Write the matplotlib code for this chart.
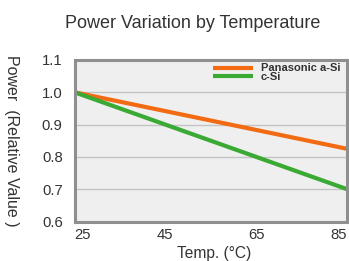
import matplotlib
matplotlib.use("Agg")
import matplotlib.pyplot as plt

plt.rcParams['font.family'] = ['Liberation Sans', 'DejaVu Sans']

temps = [25, 85]
a_si = [1.0, 0.825]
c_si = [1.0, 0.70]
xticks = [25, 45, 65, 85]
yticks = [0.6, 0.7, 0.8, 0.9, 1.0, 1.1]

fig = plt.figure(figsize=(3.49, 2.61), dpi=100)
ax = fig.add_axes([0.2135, 0.1513, 0.781, 0.619])
ax.set_facecolor('#efefef')

ax.plot(temps, a_si, color='#f26b12', lw=3, label='Panasonic a-Si', solid_capstyle='butt')
ax.plot(temps, c_si, color='#3aaa35', lw=3, label='c-Si', solid_capstyle='butt')

ax.set_xlim(25, 85)
ax.set_ylim(0.6, 1.1)
ax.set_xticks(xticks)
ax.set_yticks(yticks)
ax.set_yticklabels(['%.1f' % v for v in yticks])
ax.grid(axis='y', color='#c4c4c4', lw=1)
ax.set_axisbelow(True)
ax.tick_params(length=0, labelsize=10.7, colors='#333333')
ax.tick_params(axis='y', pad=8.5)
ax.tick_params(axis='x', pad=4.5)
xl = ax.get_xticklabels()
xl[0].set_ha('left')
xl[-1].set_ha('right')
for s in ax.spines.values():
    s.set_color('#8f8f8f')
    s.set_linewidth(2.2)

ax.set_xlabel('Temp. (°C)', fontsize=11.2, color='#333333')
ax.xaxis.set_label_coords(0.512, -0.15)
ax.set_ylabel('Power  (Relative Value )', fontsize=11.5, rotation=270, color='#333333')
ax.yaxis.label.set_va('center')
ax.yaxis.set_label_coords(-0.232, 0.5)
fig.text(192.5 / 349, 1 - 15 / 261, 'Power Variation by Temperature', fontsize=13,
         ha='center', va='top', color='#333333')

leg = ax.legend(loc='upper left', bbox_to_anchor=(0.61, 0.757), bbox_transform=fig.transFigure,
                frameon=False, fontsize=8, handlelength=3.6, handletextpad=0.72,
                labelspacing=-0.1, borderpad=0, borderaxespad=0)
for t in leg.get_texts():
    t.set_fontweight('bold')
    t.set_color('#333333')

fig.savefig('out.png', dpi=100)
